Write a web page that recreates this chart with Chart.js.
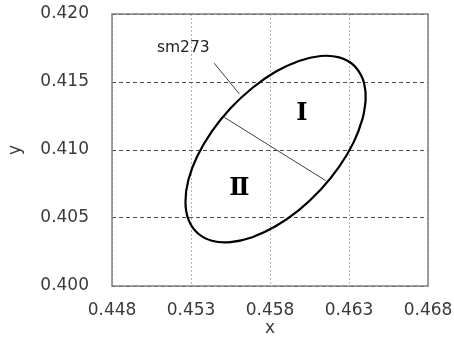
<!DOCTYPE html>
<html>
<head>
<meta charset="utf-8">
<script src="https://cdn.jsdelivr.net/npm/chart.js@4"></script>
<style>
  html, body { margin: 0; padding: 0; background: #fff; }
  #wrap { width: 454px; height: 340px; }
</style>
</head>
<body>
<div id="wrap"><canvas id="chart" width="454" height="340"></canvas></div>
<script>
const xTicks = [0.448, 0.453, 0.458, 0.463, 0.468];
const xTickLabels = ["0.448", "0.453", "0.458", "0.463", "0.468"];
const yTicks = [0.400, 0.405, 0.410, 0.415, 0.420];
const yTickLabels = ["0.400", "0.405", "0.410", "0.415", "0.420"];

// ellipse outline (closed: last point = first point)
const ellipseX = [0.46405, 0.46404, 0.46386, 0.46329, 0.46238, 0.46120, 0.45983, 0.45835, 0.45688, 0.45550, 0.45432,
  0.45341, 0.45284, 0.45265, 0.45284, 0.45341, 0.45432, 0.45550, 0.45688, 0.45835, 0.45983,
  0.46120, 0.46238, 0.46329, 0.46386, 0.46404, 0.46405];
const ellipseY = [0.41392, 0.41430, 0.41526, 0.41624, 0.41681, 0.41691, 0.41655, 0.41575, 0.41456, 0.41307, 0.41137,
  0.40958, 0.40783, 0.40622, 0.40488, 0.40390, 0.40333, 0.40323, 0.40359, 0.40439, 0.40558,
  0.40707, 0.40877, 0.41056, 0.41231, 0.41351, 0.41392];

const dividerX = [0.45511, 0.46154];
const dividerY = [0.41240, 0.40774];
const leaderX = [0.45447, 0.45606];
const leaderY = [0.41638, 0.41412];

const noteTexts = ["sm273", "Ⅰ", "Ⅱ"];
const noteX = [0.45251, 0.46001, 0.45606];
const noteY = [0.41752, 0.41270, 0.40718];

function pts(xs, ys) {
  return xs.map((v, i) => ({ x: v, y: ys[i] }));
}

const extras = {
  id: 'extras',
  afterDraw(chart) {
    const { ctx, chartArea: a } = chart;
    const sx = chart.scales.x, sy = chart.scales.y;
    ctx.save();
    ctx.strokeStyle = '#808080';
    ctx.lineWidth = 1.5;
    ctx.strokeRect(a.left, a.top, a.right - a.left, a.bottom - a.top);
    ctx.textAlign = 'center';
    ctx.textBaseline = 'middle';
    noteTexts.forEach((t, i) => {
      ctx.font = i === 0 ? '15.5px "DejaVu Sans"' : 'bold 24px "DejaVu Serif"';
      ctx.fillStyle = i === 0 ? '#222' : '#000';
      ctx.fillText(t, sx.getPixelForValue(noteX[i]), sy.getPixelForValue(noteY[i]));
    });
    ctx.restore();
  }
};

const tickFont = { family: 'DejaVu Sans', size: 17 };

new Chart(document.getElementById('chart'), {
  type: 'scatter',
  data: {
    datasets: [
      { data: pts(ellipseX, ellipseY), showLine: true, tension: 0.4, borderColor: '#000', borderWidth: 2.2, pointRadius: 0, fill: false },
      { data: pts(dividerX, dividerY), showLine: true, borderColor: '#404040', borderWidth: 1, pointRadius: 0 },
      { data: pts(leaderX, leaderY), showLine: true, borderColor: '#404040', borderWidth: 1, pointRadius: 0 }
    ]
  },
  options: {
    responsive: false,
    animation: false,
    events: [],
    layout: { padding: { left: 5, right: 26, top: 14, bottom: 1 } },
    plugins: { legend: { display: false }, tooltip: { enabled: false } },
    scales: {
      x: {
        type: 'linear', min: 0.448, max: 0.468,
        afterBuildTicks: s => { s.ticks = xTicks.map(v => ({ value: v })); },
        afterFit: s => { s.height = 53; s.paddingLeft = 0; s.paddingRight = 0; },
        ticks: { callback: (v, i) => xTickLabels[i], padding: 14, color: '#3a3a3a', font: tickFont, maxRotation: 0, autoSkip: false },
        grid: { color: '#b4b4b4', drawTicks: false, lineWidth: 1 },
        border: { display: false, dash: [2, 2] },
        title: { display: true, text: 'x', color: '#3a3a3a', font: tickFont, padding: 0 }
      },
      y: {
        type: 'linear', min: 0.400, max: 0.420,
        afterBuildTicks: s => { s.ticks = yTicks.map(v => ({ value: v })); },
        afterFit: s => { s.width = 107; s.paddingTop = 0; s.paddingBottom = 0; },
        ticks: { callback: (v, i) => yTickLabels[i], padding: 23, color: '#3a3a3a', font: tickFont, autoSkip: false },
        grid: { color: '#505050', drawTicks: false, lineWidth: 1 },
        border: { display: false, dash: [4, 3] },
        title: { display: true, text: 'y', color: '#3a3a3a', font: tickFont, padding: 0 }
      }
    }
  },
  plugins: [extras]
});
</script>
</body>
</html>
